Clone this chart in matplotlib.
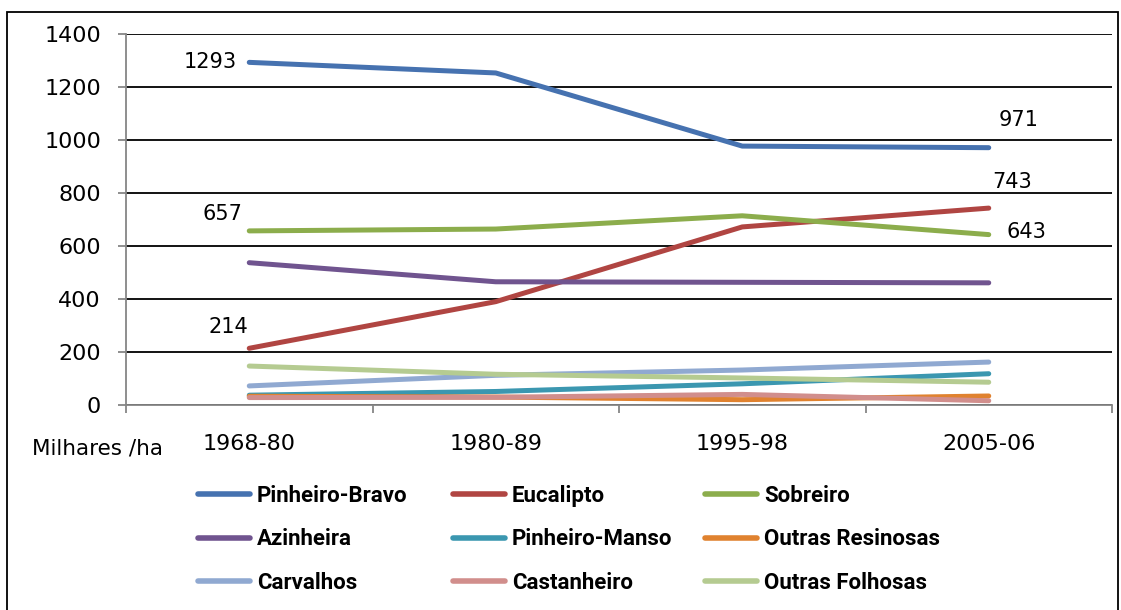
import matplotlib
matplotlib.use("Agg")
import matplotlib.pyplot as plt
from matplotlib.patches import Rectangle

#----------------------------------------------------------------------------

periods = ["1968-80", "1980-89", "1995-98", "2005-06"]

pinheiro_bravo = [1293, 1253, 977, 971]
eucalipto = [214, 390, 672, 743]
sobreiro = [657, 664, 714, 643]
azinheira = [537, 465, 463, 461]
pinheiro_manso = [37, 51, 80, 118]
outras_resinosas = [33, 30, 20, 34]
carvalhos = [72, 112, 132, 162]
castanheiro = [28, 29, 40, 16]
outras_folhosas = [147, 116, 102, 86]

names = ["Pinheiro-Bravo", "Eucalipto", "Sobreiro", "Azinheira", "Pinheiro-Manso",
         "Outras Resinosas", "Carvalhos", "Castanheiro", "Outras Folhosas"]
series = [pinheiro_bravo, eucalipto, sobreiro, azinheira, pinheiro_manso,
          outras_resinosas, carvalhos, castanheiro, outras_folhosas]
colors = ["#4672B0", "#B04542", "#8CAD4C", "#70548F", "#3B97B0",
          "#E0822F", "#90A9D1", "#D18E8C", "#B5CB91"]

yticks = [0, 200, 400, 600, 800, 1000, 1200, 1400]

# value labels: (series index, point index, offset in pixels)
labels = [(0, 0, (-39, 0)), (2, 0, (-27, 17)), (1, 0, (-21, 21)),
          (0, 3, (30, 28)), (1, 3, (23, 26)), (2, 3, (38, 3))]

#----------------------------------------------------------------------------

fig = plt.figure(figsize=(11.21, 6.10), dpi=100)
ax = fig.add_axes([126/1121, 205/610, 986/1121, 371/610])

x = list(range(len(periods)))
handles = []
for s, c, n in zip(series, colors, names):
    h, = ax.plot(x, s, color=c, lw=3.6, solid_capstyle="round", solid_joinstyle="round", label=n)
    handles.append(h)

for si, pi, off in labels:
    ax.annotate(str(series[si][pi]), (x[pi], series[si][pi]), xytext=off,
                textcoords="offset pixels", ha="center", va="center", fontsize=15)

ax.set_xlim(-0.5, 3.5)
ax.set_ylim(0, 1400)
ax.set_yticks(yticks)
ax.set_yticklabels([str(v) for v in yticks], fontsize=16)
ax.yaxis.grid(True, color="black", lw=1.3)
ax.set_axisbelow(True)

ax.set_xticks([-0.5, 0.5, 1.5, 2.5, 3.5])
ax.set_xticklabels([])
ax.set_xticks(x, minor=True)
ax.set_xticklabels(periods, minor=True, fontsize=16)
ax.tick_params(axis="x", which="minor", length=0, pad=21)
ax.tick_params(axis="x", which="major", length=6, color="#868686", width=1.3)
ax.tick_params(axis="y", length=6, color="#868686", width=1.3, pad=12)

for side in ["top", "right"]:
    ax.spines[side].set_visible(False)
for side in ["left", "bottom"]:
    ax.spines[side].set_color("#868686")
    ax.spines[side].set_linewidth(1.3)

fig.text(32/1121, 1 - 449/610, "Milhares /ha", fontsize=15.5, va="center", ha="left")

# Excel lays the legend out in fixed-width columns: one legend per column
legend_cols = [[0, 3, 6], [1, 4, 7], [2, 5, 8]]
col_x = [198, 453, 705]
for idx, cx in zip(legend_cols, col_x):
    leg = fig.legend([handles[i] for i in idx], [names[i] for i in idx],
                     loc="upper left", bbox_to_anchor=(cx/1121, 1 - 485/610),
                     frameon=False, borderpad=0, borderaxespad=0,
                     handlelength=2.35, handletextpad=0.3, labelspacing=0.96,
                     prop={"weight": "bold", "size": 16, "family": ["Roboto", "DejaVu Sans"]})
    for lh in leg.get_lines():
        lh.set_linewidth(4)

fig.patches.append(Rectangle((7/1121, -0.01), 1111/1121, 1 - 12/610 + 0.01,
                             transform=fig.transFigure, fill=False,
                             edgecolor="black", lw=1.3))

fig.savefig("out.png", dpi=100)
